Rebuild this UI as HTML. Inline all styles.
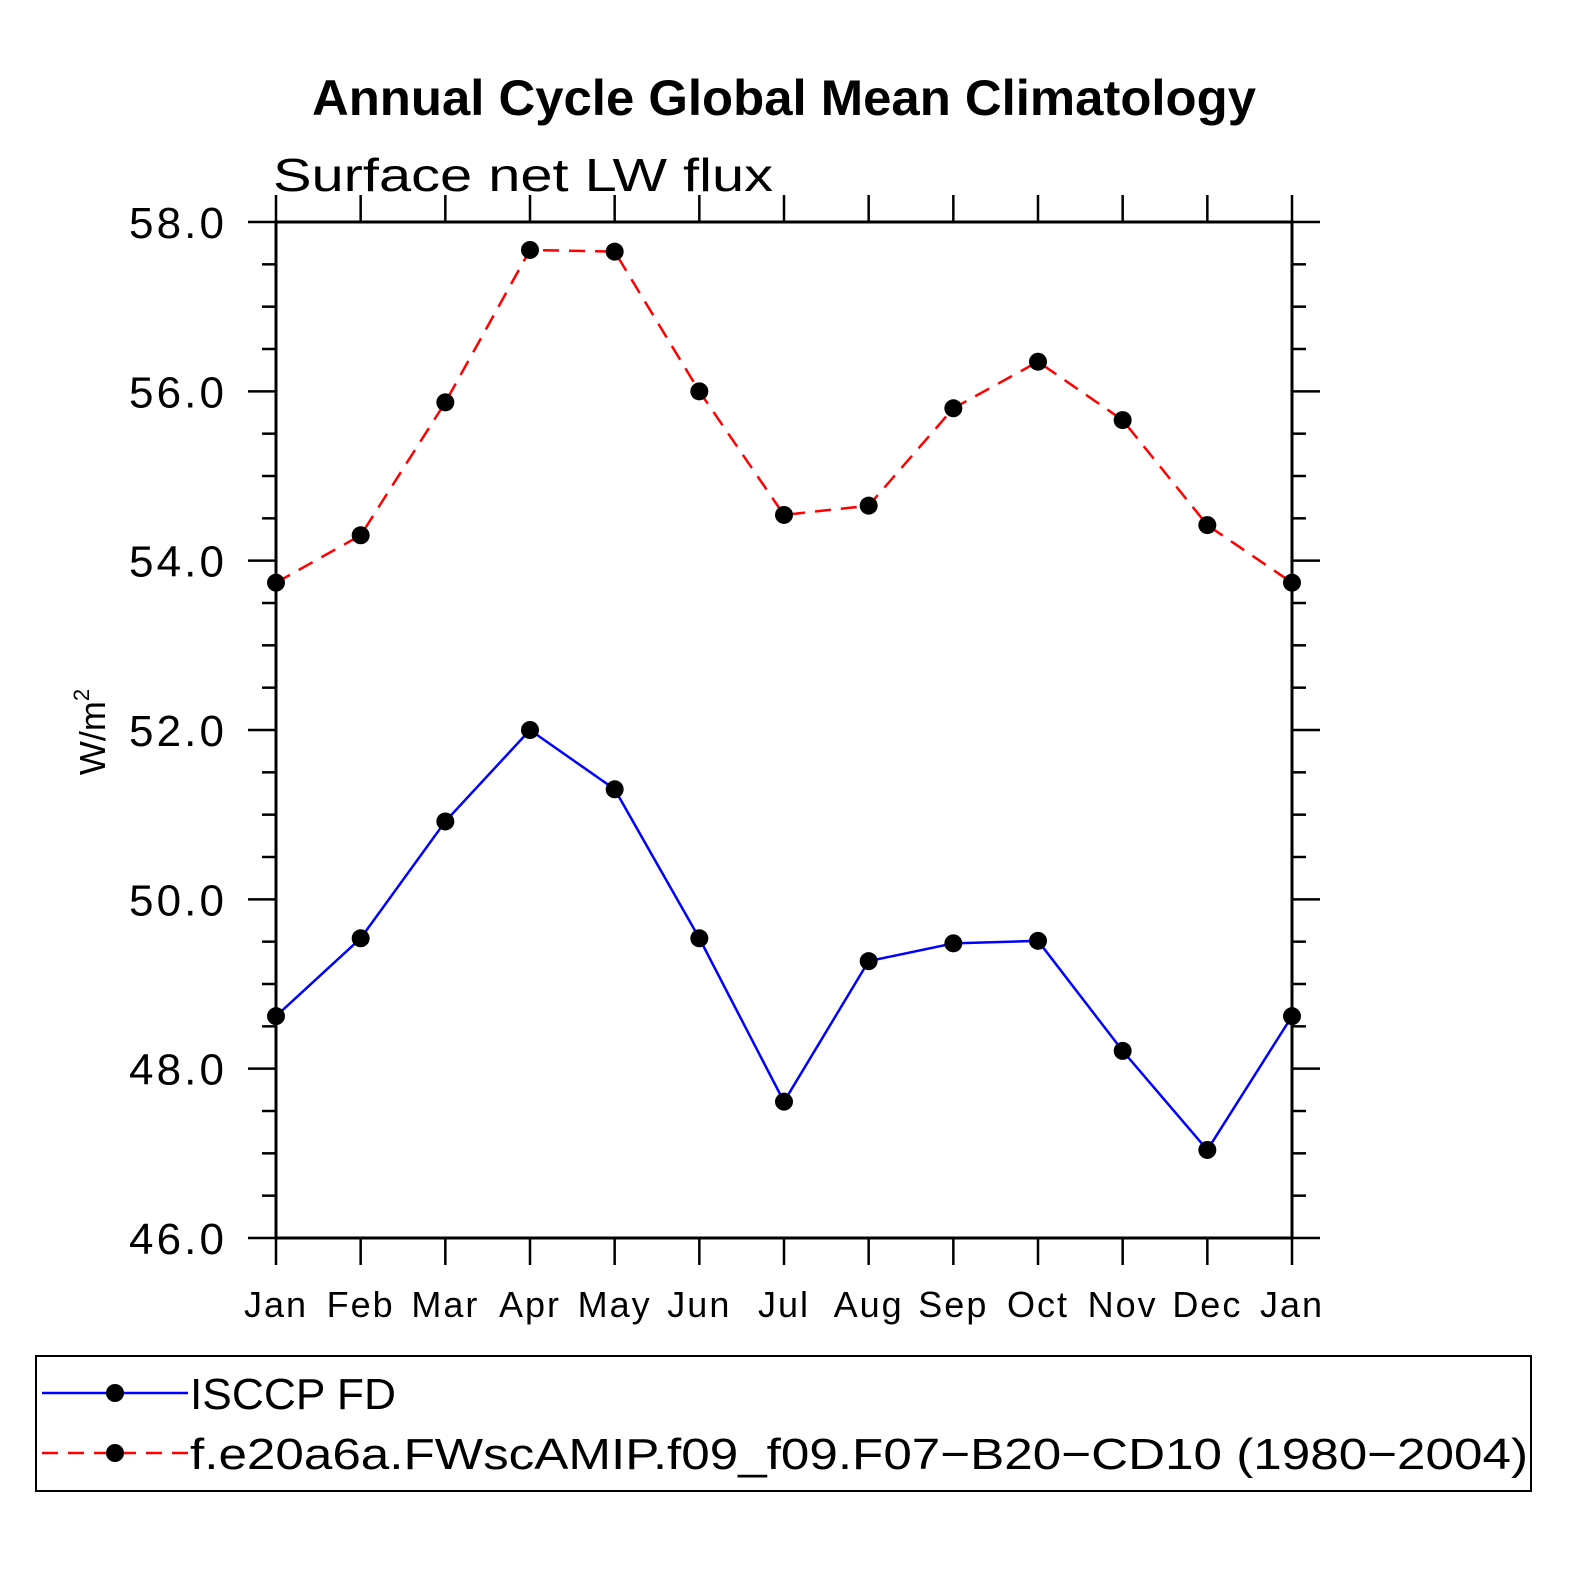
<!DOCTYPE html>
<html><head><meta charset="utf-8"><style>
body{margin:0;background:#fff}
svg{display:block;font-family:"Liberation Sans",sans-serif}
</style></head><body>
<svg id="c" width="1574" height="1574" viewBox="0 0 1574 1574">
<text x="312" y="115" textLength="944" lengthAdjust="spacingAndGlyphs" font-size="50" font-weight="bold">Annual Cycle Global Mean Climatology</text>
<text x="273" y="191" textLength="500" lengthAdjust="spacingAndGlyphs" font-size="46">Surface net LW flux</text>
<text transform="translate(105,732) rotate(-90)" text-anchor="middle" font-size="36">W/m<tspan dy="-16" font-size="22">2</tspan></text>
<rect x="276" y="222" width="1016" height="1016" fill="none" stroke="#000" stroke-width="3"/>
<g id="ticks"></g><g id="series"></g>
<rect x="36" y="1356" width="1495" height="135" fill="none" stroke="#000" stroke-width="2"/>
<g>
<line x1="42" y1="1393" x2="188" y2="1393" stroke="#00f" stroke-width="2.5"/><circle cx="115" cy="1393" r="9"/>
<text x="190" y="1409" textLength="206" lengthAdjust="spacingAndGlyphs" font-size="44">ISCCP FD</text></g>
<g>
<line x1="42" y1="1453" x2="188" y2="1453" stroke="#f00" stroke-width="2.5" stroke-dasharray="16,10"/><circle cx="115" cy="1453" r="9"/>
<text x="190" y="1469" textLength="1338" lengthAdjust="spacingAndGlyphs" font-size="44">f.e20a6a.FWscAMIP.f09_f09.F07−B20−CD10 (1980−2004)</text></g>
</svg>
<script>
const months=["Jan","Feb","Mar","Apr","May","Jun","Jul","Aug","Sep","Oct","Nov","Dec","Jan"];
const isccp=[48.62,49.54,50.92,52.0,51.30,49.54,47.61,49.27,49.48,49.51,48.21,47.04,48.62];
const model=[53.74,54.30,55.87,57.67,57.65,56.0,54.54,54.65,55.80,56.35,55.66,54.42,53.74];
const yTicks=["46.0","48.0","50.0","52.0","54.0","56.0","58.0"];
const NS="http://www.w3.org/2000/svg";
const X0=276,X1=1292,Y0=1238,Y1=222,YMIN=46,YMAX=58;
const xs=i=>X0+(X1-X0)*i/(months.length-1);
const ys=v=>Y0-(v-YMIN)/(YMAX-YMIN)*(Y0-Y1);
function mk(t,a,p){const e=document.createElementNS(NS,t);for(const k in a)e.setAttribute(k,a[k]);p.appendChild(e);return e;}
const tk=document.getElementById('ticks');
for(let v=YMIN;v<=YMAX+1e-6;v+=0.5){
 const y=ys(v),maj=Math.abs(v/2-Math.round(v/2))<1e-6;const L=maj?28:14;
 let l=mk('line',{x1:X0-L,x2:X0,y1:y,y2:y,stroke:'#000','stroke-width':2.5},tk);
 
 
 let r=mk('line',{x1:X1,x2:X1+L,y1:y,y2:y,stroke:'#000','stroke-width':2.5},tk);
 
 
}
yTicks.forEach(s=>{const t=mk('text',{x:224,y:ys(+s)+16,'text-anchor':'end','font-size':44,textLength:95,lengthAdjust:'spacing'},tk);t.textContent=s;
 
 });
months.forEach((m,i)=>{const x=xs(i);
 let a=mk('line',{x1:x,x2:x,y1:Y0,y2:Y0+27,stroke:'#000','stroke-width':2.5},tk);
 
 
 let b=mk('line',{x1:x,x2:x,y1:Y1-27,y2:Y1,stroke:'#000','stroke-width':2.5},tk);
 
 
 const t=mk('text',{x:x,y:1317,'text-anchor':'middle','font-size':36,'letter-spacing':2},tk);t.textContent=m;
 
 });
const sg=document.getElementById('series');
function draw(vals,col,dash,name){
 const pts=vals.map((v,i)=>xs(i)+','+ys(v)).join(' ');
 const p=mk('polyline',{points:pts,fill:'none',stroke:col,'stroke-width':2.5,'stroke-dasharray':dash},sg);
 
 
 vals.forEach((v,i)=>{const c=mk('circle',{cx:xs(i),cy:ys(v),r:9,fill:'#000'},sg);
  
  });
}
draw(model,'#f00','16,10','model');
draw(isccp,'#00f','none','isccp');
</script>
</body></html>
